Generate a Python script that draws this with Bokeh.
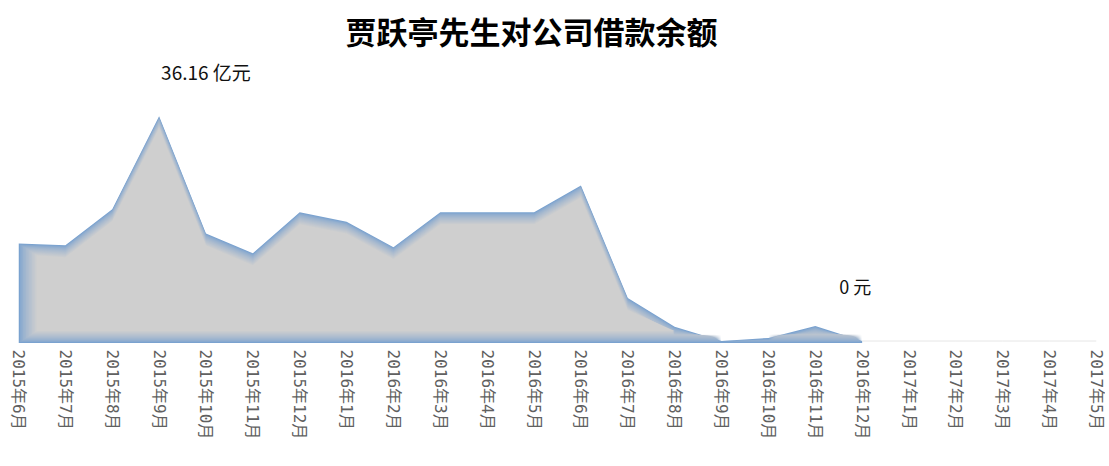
import numpy as np
from bokeh.plotting import figure
from bokeh.models import FixedTicker, Label, Range1d
from bokeh.embed import file_html
from bokeh.resources import INLINE

months = ["2015年6月", "2015年7月", "2015年8月", "2015年9月", "2015年10月", "2015年11月",
          "2015年12月", "2016年1月", "2016年2月", "2016年3月", "2016年4月", "2016年5月",
          "2016年6月", "2016年7月", "2016年8月", "2016年9月", "2016年10月", "2016年11月",
          "2016年12月", "2017年1月", "2017年2月", "2017年3月", "2017年4月", "2017年5月"]
balance = [15.7, 15.4, 21.2, 36.16, 17.3, 14.1, 20.7, 19.2, 15.1, 20.7, 20.7, 20.7,
           25.0, 6.9, 2.3, 0, 0.5, 2.4, 0, 0, 0, 0, 0, 0]
title_text = "贾跃亭先生对公司借款余额"
peak_label = "36.16 亿元"
zero_label = "0 元"

W, H = 1105, 460
BL, BR, BT, BB = 18, 9, 55, 117
y0, y1 = -0.4, 45.6

p = figure(width=W, height=H, output_backend="svg", toolbar_location=None,
           x_range=Range1d(0, len(months) - 1), y_range=Range1d(y0, y1),
           min_border_left=BL, min_border_right=BR, min_border_top=BT, min_border_bottom=BB)

p.title.text = title_text
p.title.align = "left"
p.title.offset = 327
p.title.text_font = "Noto Sans CJK SC"
p.title.text_font_size = "31px"
p.title.text_font_style = "bold"
p.title.text_color = "#000000"

x = np.arange(len(months), dtype=float)
v = np.array(balance, dtype=float)
last = int(np.max(np.nonzero(v)[0])) + 1  # first zero after the last nonzero

px_x = (W - BL - BR) / (len(months) - 1)
px_y = (H - BT - BB) / (y1 - y0)

blue = np.array([122, 162, 207])
gray = np.array([207, 207, 207])
N = 13
for k in range(N):
    t = (k / (N - 1)) ** 0.7
    c = (blue * (1 - t) + gray * t).astype(int)
    col = "#%02x%02x%02x" % tuple(c)
    base = (k - 2) / px_y
    dx = 1.5 * k / px_x
    xs = x[:last + 1].copy()
    xs[0] = xs[0] + dx
    top = np.maximum(v[:last + 1] - k / px_y, base)
    p.varea(x=xs, y1=np.full_like(xs, base), y2=top, fill_color=col, fill_alpha=1.0)

p.line(x=x[last:], y=v[last:], line_color="#e6e6e6", line_width=1)

p.add_layout(Label(x=x[3], y=v[3], text=peak_label, x_offset=2, y_offset=45,
                   text_align="left", text_baseline="middle",
                   text_font="Noto Sans CJK SC", text_font_size="19px", text_color="#111111"))
p.add_layout(Label(x=x[last], y=v[last], text=zero_label, x_offset=-7, y_offset=55,
                   text_align="center", text_baseline="middle",
                   text_font="Noto Sans CJK SC", text_font_size="18px", text_color="#111111"))

p.xaxis.ticker = FixedTicker(ticks=list(range(len(months))))
p.xaxis.major_label_overrides = {i: m for i, m in enumerate(months)}
p.xaxis.major_label_orientation = "vertical"
p.xaxis.major_label_text_font = "DejaVu Sans Mono, Noto Sans CJK SC"
p.xaxis.major_label_text_font_size = "16px"
p.xaxis.major_label_text_color = "#606060"
p.xaxis.major_label_standoff = 6
p.xaxis.axis_line_color = None
p.xaxis.major_tick_line_color = None
p.xaxis.minor_tick_line_color = None
p.xaxis.major_tick_out = 0
p.xaxis.major_tick_in = 0
p.yaxis.visible = False
p.xgrid.visible = False
p.ygrid.visible = False
p.outline_line_color = None
p.background_fill_color = "white"
p.border_fill_color = "white"

open("out.html", "w").write(file_html(p, INLINE))
